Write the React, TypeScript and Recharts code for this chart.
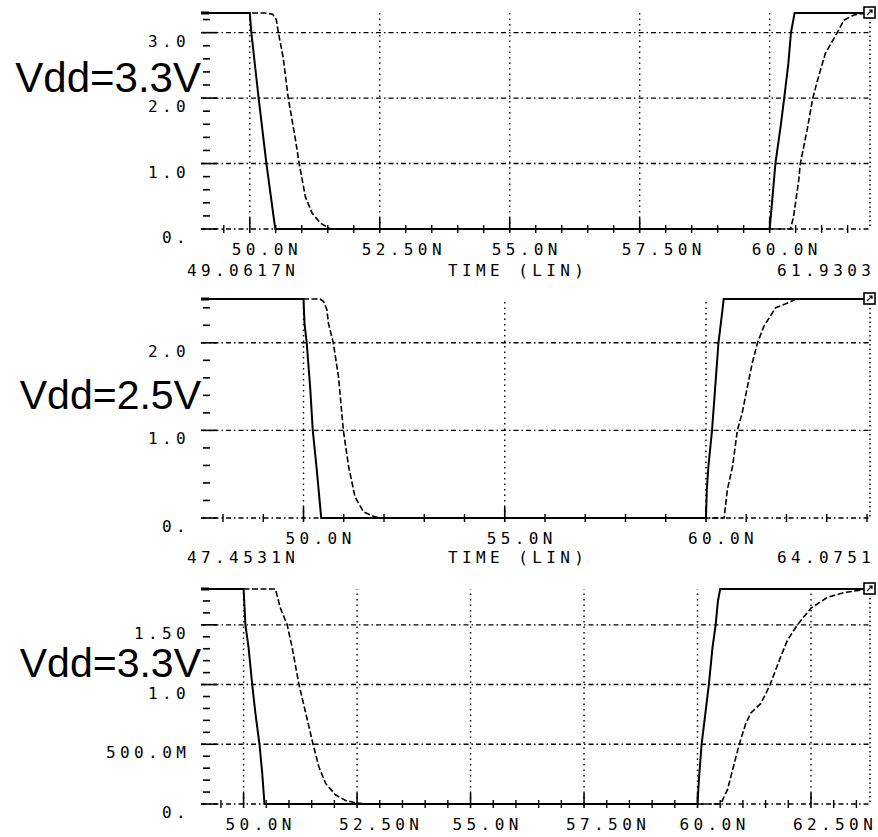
import { LineChart, Line, XAxis, YAxis, ReferenceLine, ReferenceDot } from 'recharts';

// [time ns, volts]
const p1Solid: [number, number][] = [
  [49.0617, 3.3], [50.0, 3.3], [50.03, 3.0], [50.17, 2.0], [50.32, 1.0], [50.49, 0],
  [60.0, 0], [60.05, 0.44], [60.11, 1.0], [60.21, 1.56], [60.28, 2.0], [60.36, 2.53],
  [60.41, 3.0], [60.48, 3.3], [61.9303, 3.3],
];
const p1Dashed: [number, number][] = [
  [49.0617, 3.3], [50.3, 3.3], [50.44, 3.28], [50.51, 3.2], [50.55, 3.0], [50.64, 2.63],
  [50.74, 2.0], [50.88, 1.36], [50.95, 1.0], [51.07, 0.49], [51.2, 0.24], [51.36, 0.09],
  [51.55, 0], [60.4, 0], [60.46, 0.19], [60.56, 0.75], [60.59, 1.0], [60.72, 1.51],
  [60.83, 2.0], [60.92, 2.27], [61.07, 2.68], [61.3, 3.0], [61.43, 3.19], [61.62, 3.27],
  [61.86, 3.3], [61.9303, 3.3],
];
const p2Solid: [number, number][] = [
  [47.4531, 2.5], [50.0, 2.5], [50.025, 2.22], [50.08, 2.0], [50.17, 1.46], [50.23, 1.0],
  [50.33, 0.55], [50.44, 0], [60.0, 0], [60.02, 0.32], [60.06, 0.59], [60.15, 1.0],
  [60.23, 1.5], [60.31, 2.0], [60.4, 2.34], [60.44, 2.5], [64.0751, 2.5],
];
const p2Dashed: [number, number][] = [
  [47.4531, 2.5], [50.41, 2.5], [50.5, 2.47], [50.58, 2.38], [50.62, 2.22], [50.74, 2.0],
  [50.87, 1.61], [50.99, 1.0], [51.12, 0.59], [51.28, 0.24], [51.49, 0.07], [51.74, 0.02],
  [51.9, 0], [60.45, 0], [60.53, 0.32], [60.66, 0.59], [60.78, 1.0], [60.9, 1.2],
  [61.03, 1.5], [61.15, 1.77], [61.28, 2.0], [61.44, 2.19], [61.73, 2.4], [62.06, 2.46],
  [62.23, 2.5], [64.0751, 2.5],
];
const p3Solid: [number, number][] = [
  [49.0617, 1.8], [50.0, 1.8], [50.04, 1.5], [50.11, 1.31], [50.19, 1.0], [50.26, 0.76],
  [50.35, 0.5], [50.41, 0.26], [50.46, 0], [60.0, 0], [60.03, 0.2], [60.09, 0.5],
  [60.18, 0.78], [60.25, 1.0], [60.33, 1.31], [60.4, 1.5], [60.45, 1.7], [60.5, 1.8],
  [63.8, 1.8],
];
const p3Dashed: [number, number][] = [
  [49.0617, 1.8], [50.7, 1.8], [50.81, 1.64], [50.96, 1.5], [51.07, 1.31], [51.22, 1.0],
  [51.37, 0.76], [51.53, 0.5], [51.66, 0.31], [51.81, 0.17], [52.03, 0.075], [52.25, 0.03],
  [52.47, 0.01], [52.69, 0], [60.51, 0], [60.66, 0.12], [60.77, 0.28], [60.92, 0.5],
  [61.06, 0.67], [61.17, 0.76], [61.39, 0.84], [61.5, 0.92], [61.6, 1.0], [61.69, 1.09],
  [61.83, 1.23], [61.98, 1.37], [62.2, 1.5], [62.5, 1.64], [62.86, 1.73], [63.23, 1.77],
  [63.75, 1.8], [63.8, 1.8],
];

const p1XMajor = [50, 52.5, 55, 57.5, 60];
const p1XLabels = ['50.0N', '52.50N', '55.0N', '57.50N', '60.0N'];
const p1YMajor = [0, 1, 2, 3];
const p1YLabels = ['0.', '1.0', '2.0', '3.0'];

const p2XMajor = [50, 55, 60];
const p2XLabels = ['50.0N', '55.0N', '60.0N'];
const p2YMajor = [0, 1, 2];
const p2YLabels = ['0.', '1.0', '2.0'];

const p3XMajor = [50, 52.5, 55, 57.5, 60, 62.5];
const p3XLabels = ['50.0N', '52.50N', '55.0N', '57.50N', '60.0N', '62.50N'];
const p3YMajor = [0, 0.5, 1, 1.5];
const p3YLabels = ['0.', '500.0M', '1.0', '1.50'];

const vddLabels = ['Vdd=3.3V', 'Vdd=2.5V', 'Vdd=3.3V'];

const pix: React.CSSProperties = {
  fontFamily: '"DejaVu Sans Mono", "Liberation Mono", monospace',
  fontSize: 16,
  letterSpacing: '4.4px',
};

const toPts = (a: [number, number][]) => a.map(([t, v]) => ({ t, v }));

// minor tick positions along an axis
const steps = (lo: number, hi: number, step: number) => {
  const out: number[] = [];
  for (let v = Math.ceil(lo / step - 1e-9) * step; v <= hi + 1e-9; v += step) {
    out.push(Math.round(v * 1000) / 1000);
  }
  return out;
};

const findMajor = (majors: number[], v: number) => majors.findIndex((m) => Math.abs(m - v) < 1e-6);

function XTick(props: any) {
  const { x, y, payload, majors, labels } = props;
  const i = findMajor(majors, payload.value);
  if (i < 0) {
    return <line x1={x} x2={x} y1={y - 4} y2={y + 4} stroke="#000" strokeWidth={1.4} />;
  }
  return (
    <g>
      <line x1={x} x2={x} y1={y - 11} y2={y + 4} stroke="#000" strokeWidth={1.6} />
      <text x={x - 18} y={y + 26} style={pix} fill="#000">{labels[i]}</text>
    </g>
  );
}

function YTickLeft(props: any) {
  const { x, y, payload, majors, labels, top } = props;
  const i = findMajor(majors, payload.value);
  if (Math.abs(payload.value - top) < 1e-6) {
    return <line x1={x} x2={x + 8} y1={y} y2={y} stroke="#000" strokeWidth={3} />;
  }
  if (i < 0) {
    return <line x1={x + 2} x2={x + 9} y1={y} y2={y} stroke="#000" strokeWidth={1.6} />;
  }
  const s = labels[i];
  return (
    <g>
      <line x1={x} x2={x + 16} y1={y} y2={y} stroke="#000" strokeWidth={1.6} />
      <text x={x - 11 - s.length * 14} y={y + 14} style={pix} fill="#000">{s}</text>
    </g>
  );
}

function YTickRight(props: any) {
  const { x, y, payload, majors, top } = props;
  if (Math.abs(payload.value - top) < 1e-6) return <g />;
  const major = findMajor(majors, payload.value) >= 0;
  return <line x1={x - (major ? 14 : 5)} x2={x} y1={y} y2={y} stroke="#000" strokeWidth={1.6} />;
}

function EndMarker(props: any) {
  const { cx, cy } = props;
  return (
    <g>
      <rect x={cx - 6} y={cy - 6} width={11} height={11} fill="#fff" stroke="#000" strokeWidth={1.6} />
      <path d={`M${cx - 3} ${cy + 2} L${cx + 2} ${cy - 3} M${cx - 1} ${cy - 3} L${cx + 2} ${cy - 3} L${cx + 2} ${cy}`} stroke="#000" strokeWidth={1.2} fill="none" />
    </g>
  );
}

interface PanelProps {
  top: number;
  height: number;
  marginTop: number;
  xAxisHeight: number;
  xDomain: [number, number];
  yMax: number;
  xMajor: number[];
  xLabels: string[];
  xStep: number;
  yMajor: number[];
  yLabels: string[];
  yStep: number;
  solid: [number, number][];
  dashed: [number, number][];
}

function Panel(p: PanelProps) {
  const xTicks = steps(p.xDomain[0], p.xDomain[1], p.xStep);
  const yTicks = steps(0, p.yMax, p.yStep);
  if (Math.abs(yTicks[yTicks.length - 1] - p.yMax) > 1e-6) yTicks.push(p.yMax);
  return (
    <div style={{ position: 'absolute', left: 0, top: p.top }}>
      <LineChart width={878} height={p.height} margin={{ top: p.marginTop, right: 0, bottom: 0, left: 0 }}>
        <XAxis
          type="number"
          dataKey="t"
          domain={p.xDomain}
          ticks={xTicks}
          interval={0}
          height={p.xAxisHeight}
          tickSize={0}
          tickMargin={0}
          axisLine={false}
          tickLine={false}
          tick={(tp: any) => <XTick {...tp} majors={p.xMajor} labels={p.xLabels} />}
        />
        <YAxis
          yAxisId="l"
          type="number"
          domain={[0, p.yMax]}
          ticks={yTicks}
          interval={0}
          width={201}
          tickSize={0}
          tickMargin={0}
          axisLine={false}
          tickLine={false}
          tick={(tp: any) => <YTickLeft {...tp} majors={p.yMajor} labels={p.yLabels} top={p.yMax} />}
        />
        <YAxis
          yAxisId="r"
          orientation="right"
          type="number"
          domain={[0, p.yMax]}
          ticks={yTicks}
          interval={0}
          width={8}
          tickSize={0}
          tickMargin={0}
          axisLine={{ stroke: '#000', strokeWidth: 1.4, strokeDasharray: '1.5 3' }}
          tickLine={false}
          tick={(tp: any) => <YTickRight {...tp} majors={p.yMajor} top={p.yMax} />}
        />
        {p.xMajor.map((v) => (
          <ReferenceLine key={'vx' + v} yAxisId="l" x={v} stroke="#000" strokeWidth={1.4} strokeDasharray="1.5 4" />
        ))}
        {p.yMajor.map((v) => (
          <ReferenceLine key={'hy' + v} yAxisId="l" y={v} stroke="#000" strokeWidth={1.4} strokeDasharray="5 3 1.5 3" />
        ))}
        <Line yAxisId="l" data={toPts(p.dashed)} dataKey="v" type="linear" stroke="#000" strokeWidth={1.6} strokeDasharray="6 2.5" dot={false} isAnimationActive={false} />
        <Line yAxisId="l" data={toPts(p.solid)} dataKey="v" type="linear" stroke="#000" strokeWidth={2} dot={false} isAnimationActive={false} />
        <ReferenceDot yAxisId="l" x={p.xDomain[1]} y={p.yMax} ifOverflow="visible" shape={(sp: any) => <EndMarker {...sp} />} />
      </LineChart>
    </div>
  );
}

export default function App() {
  return (
    <div style={{ position: 'absolute', left: 0, top: 0, width: 878, height: 837, background: '#fff', overflow: 'hidden' }}>
      <Panel
        top={0} height={290} marginTop={13} xAxisHeight={61}
        xDomain={[49.0617, 61.9303]} yMax={3.3}
        xMajor={p1XMajor} xLabels={p1XLabels} xStep={0.5}
        yMajor={p1YMajor} yLabels={p1YLabels} yStep={0.2}
        solid={p1Solid} dashed={p1Dashed}
      />
      <Panel
        top={280} height={280} marginTop={19} xAxisHeight={42}
        xDomain={[47.4531, 64.0751]} yMax={2.5}
        xMajor={p2XMajor} xLabels={p2XLabels} xStep={1}
        yMajor={p2YMajor} yLabels={p2YLabels} yStep={0.2}
        solid={p2Solid} dashed={p2Dashed}
      />
      <Panel
        top={560} height={277} marginTop={29} xAxisHeight={33}
        xDomain={[49.0617, 63.8]} yMax={1.8}
        xMajor={p3XMajor} xLabels={p3XLabels} xStep={0.5}
        yMajor={p3YMajor} yLabels={p3YLabels} yStep={0.1}
        solid={p3Solid} dashed={p3Dashed}
      />
      <svg width={878} height={837} style={{ position: 'absolute', left: 0, top: 0, pointerEvents: 'none' }}>
        <g style={pix} fill="#000">
          <text x={187} y={276}>49.0617N</text>
          <text x={448} y={276}>TIME (LIN)</text>
          <text x={777} y={276}>61.9303</text>
          <text x={187} y={563}>47.4531N</text>
          <text x={448} y={563}>TIME (LIN)</text>
          <text x={777} y={563}>64.0751</text>
        </g>
        <g fontFamily='"Liberation Sans", Arial, sans-serif' fill="#000" textAnchor="end">
          <text x={201} y={92} fontSize={42}>{vddLabels[0]}</text>
          <text x={201} y={409} fontSize={41}>{vddLabels[1]}</text>
          <text x={201} y={677} fontSize={41}>{vddLabels[2]}</text>
        </g>
      </svg>
    </div>
  );
}
